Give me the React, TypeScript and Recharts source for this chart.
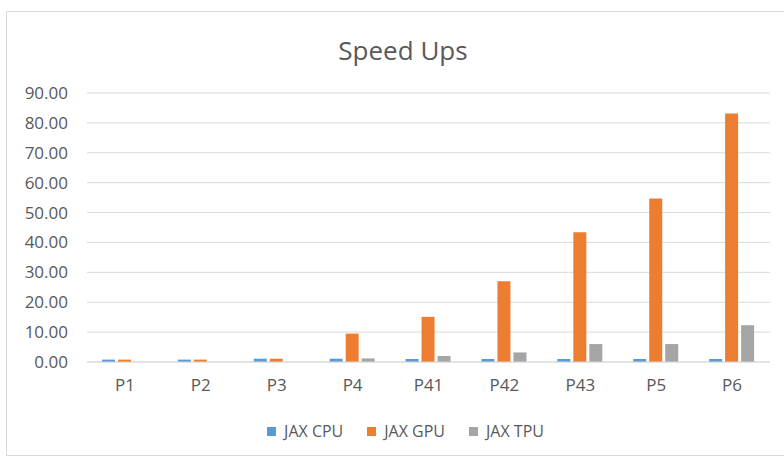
import React from 'react';
import { BarChart, Bar, XAxis, YAxis, CartesianGrid, Legend } from 'recharts';

// valeurs
const categories = ['P1', 'P2', 'P3', 'P4', 'P41', 'P42', 'P43', 'P5', 'P6'];
const jaxCpu = [0.8, 0.8, 1.1, 1.1, 1.0, 1.0, 1.0, 1.0, 1.0];
const jaxGpu = [0.8, 0.8, 1.1, 9.5, 15.1, 27.0, 43.4, 54.7, 83.1];
const jaxTpu = [0, 0, 0, 1.2, 2.0, 3.2, 6.0, 6.0, 12.3];
const yTicks = [0, 10, 20, 30, 40, 50, 60, 70, 80, 90];

const data = categories.map((name, i) => ({
  name,
  cpu: jaxCpu[i],
  gpu: jaxGpu[i],
  tpu: jaxTpu[i],
}));

const FONT = '"Open Sans", sans-serif';
const TEXT = '#595959';

// légende centrée sur toute la largeur du cadre, pas seulement sur la zone de tracé
const renderLegend = (props: any) => {
  const { payload } = props;
  return (
    <div
      style={{
        position: 'relative',
        left: 17,
        top: -2,
        display: 'flex',
        justifyContent: 'center',
        fontFamily: FONT,
        fontSize: 16,
        color: TEXT,
      }}
    >
      {payload.map((p: any, i: number) => (
        <div key={i} style={{ display: 'flex', alignItems: 'center', marginRight: i < payload.length - 1 ? 24 : 0 }}>
          <span style={{ width: 9, height: 9, background: p.color, display: 'inline-block', marginRight: 8 }} />
          <span>{p.value}</span>
        </div>
      ))}
    </div>
  );
};

export default function App() {
  return (
    <div style={{ position: 'fixed', left: 0, top: 0, width: 784, height: 460, overflow: 'hidden', background: '#fff' }}>
      <div
        style={{
          position: 'absolute',
          left: 6,
          top: 11,
          width: 800,
          height: 445,
          border: '1px solid #d9d9d9',
          background: '#fff',
          boxSizing: 'border-box',
        }}
      >
        <div
          style={{
            position: 'absolute',
            left: 0,
            width: 792,
            top: 20,
            textAlign: 'center',
            fontFamily: FONT,
            fontSize: 26,
            color: TEXT,
          }}
        >
          Speed Ups
        </div>
        <BarChart
          width={798}
          height={443}
          data={data}
          margin={{ top: 81, right: 35, left: 0, bottom: 0 }}
          barSize={13}
          barGap={3}
        >
          <CartesianGrid vertical={false} stroke="#d9d9d9" />
          <XAxis
            dataKey="name"
            axisLine={{ stroke: '#d9d9d9' }}
            tickLine={false}
            tickSize={0}
            tickMargin={17}
            height={60}
            tick={{ fill: TEXT, fontSize: 17, fontFamily: FONT }}
          />
          <YAxis
            domain={[0, 90]}
            ticks={yTicks}
            axisLine={false}
            tickLine={false}
            tickSize={0}
            tickMargin={19}
            width={80}
            tickFormatter={(v: number) => v.toFixed(2)}
            tick={{ fill: TEXT, fontSize: 17, fontFamily: FONT }}
          />
          <Legend verticalAlign="bottom" height={33} content={renderLegend} />
          <Bar dataKey="cpu" name="JAX CPU" fill="#5b9bd5" isAnimationActive={false} />
          <Bar dataKey="gpu" name="JAX GPU" fill="#ed7d31" isAnimationActive={false} />
          <Bar dataKey="tpu" name="JAX TPU" fill="#a5a5a5" isAnimationActive={false} />
        </BarChart>
      </div>
    </div>
  );
}
